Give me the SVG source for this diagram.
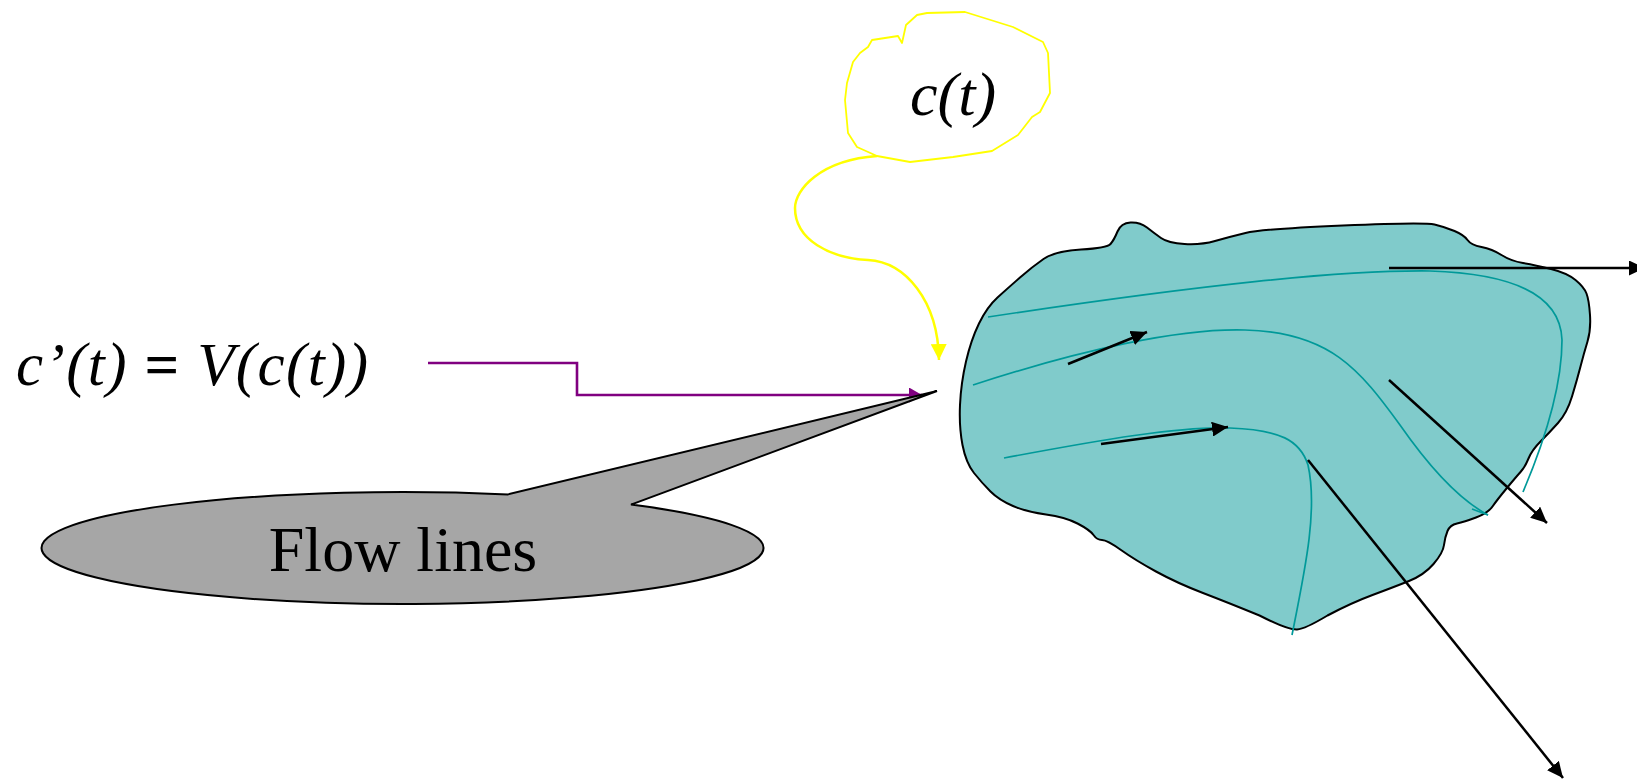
<svg xmlns="http://www.w3.org/2000/svg" width="1637" height="780" viewBox="0 0 1637 780">
<style>
.math{font-family:"Liberation Serif","Times New Roman",serif;font-style:italic;fill:#000}
.label{font-family:"Liberation Serif","Times New Roman",serif;fill:#000}
.flow{fill:none;stroke:#009999;stroke-width:1.7}
.vec{fill:none;stroke:#000;stroke-width:2.5}
</style>
<defs>
<marker id="ahBlack" markerUnits="userSpaceOnUse" viewBox="0 0 16 15" refX="16" refY="7.5" markerWidth="16" markerHeight="15" orient="auto"><path d="M0,0 L16,7.5 L0,15 z" fill="#000"/></marker>
<marker id="ahPurple" markerUnits="userSpaceOnUse" viewBox="0 0 13 15" refX="13" refY="7.5" markerWidth="13" markerHeight="15" orient="auto"><path d="M0,0 L13,7.5 L0,15 z" fill="#800080"/></marker>
<marker id="ahYellow" markerUnits="userSpaceOnUse" viewBox="0 0 16 16" refX="16" refY="8" markerWidth="16" markerHeight="16" orient="auto"><path d="M0,0 L16,8 L0,16 z" fill="#FFFF00"/></marker>
</defs>

<g id="region">
<path d="M1043.5,259 Q1055,251 1081,249.5 Q1107,248 1110.5,244 Q1114,240 1117.5,231.5 Q1121,223 1130.5,222.5 Q1140,222 1147,227.5 Q1154,233 1161,238 Q1168,243 1184.5,244 Q1201,245 1215,241 Q1229,237 1245.5,233 Q1262,229 1343,225.5 Q1424,222 1434.5,224.5 Q1445,227 1454.5,231 Q1464,235 1467.5,240 Q1471,245 1481.5,247 Q1492,249 1501.5,255 Q1511,261 1523,263 Q1535,265 1551,269 Q1567,273 1575.5,280 Q1584,287 1586.5,293.5 Q1589,300 1590,315 Q1591,330 1587.5,341.5 Q1584,353 1580.5,366.5 Q1577,380 1572,396.5 Q1567,413 1558,423 Q1549,433 1540.5,441.5 Q1532,450 1528.5,458.5 Q1525,467 1520.5,472 Q1516,477 1506.5,488.5 Q1497,500 1492.5,506.5 Q1488,513 1476,517.5 Q1464,522 1457,523.5 Q1450,525 1447.5,531 Q1445,537 1444,545 Q1443,553 1433.5,564 Q1424,575 1409,581 Q1394,587 1372.5,595 Q1351,603 1327.5,615.5 Q1305,629 1297,629.5 Q1288,630 1259.5,615.5 Q1229,603 1203,593 Q1177,583 1156,571.5 Q1135,560 1121,550 Q1107,540 1102,540 Q1097,540 1093.5,535 Q1090,530 1077.5,523.5 Q1065,517 1046,514.5 Q1027,512 1013,506 Q999,500 990.5,491.5 Q982,483 974,473 Q966,463 962.5,445 Q959,427 960,405 Q961,383 966,361.5 Q971,340 979,323.5 Q987,307 997.5,297.5 Q1008,288 1020,277.5 Q1032,267 1043.5,259 Z" fill="#80CBCB" stroke="#000" stroke-width="2"/>
<path class="flow" d="M988,317 C1200,285 1340,270 1430,271 Q1560,275 1562,340 Q1562,400 1523,492"/>
<path class="flow" d="M973,385 C1080,350 1180,328 1245,330 C1330,332 1360,370 1400,425 C1430,468 1460,500 1488,515"/>
<path class="flow" d="M1472,509 L1488,515"/>
<path class="flow" d="M1004,458 C1100,440 1180,426 1230,428 C1280,430 1300,440 1308,465 C1318,510 1305,570 1292,635"/>
<g id="vectors">
<path class="vec" d="M1389,268 L1645,268" marker-end="url(#ahBlack)"/>
<path class="vec" d="M1068,364 L1147,332" marker-end="url(#ahBlack)"/>
<path class="vec" d="M1101,444 L1228,427" marker-end="url(#ahBlack)"/>
<path class="vec" d="M1389,380 L1547,523" marker-end="url(#ahBlack)"/>
<path class="vec" d="M1308,460 L1563,778" marker-end="url(#ahBlack)"/>
</g>
</g>

<g id="connectors">
<path d="M877,156 C820,160 795,190 795,208 C795,240 830,258 868,260 C905,262 938,300 939,360" fill="none" stroke="#FFFF00" stroke-width="2.5" marker-end="url(#ahYellow)"/>
<path d="M428,363 H577 V395 H922" fill="none" stroke="#800080" stroke-width="2.6" marker-end="url(#ahPurple)"/>
</g>

<g id="curve-label">
<path d="M872,40 L898,36 L902,43 L906,25 L917,15 L927,13 L965,12 L1013,27 L1043,42 L1048,53 L1050,93 L1040,112 L1032,117 L1018,135 L992,151 L953,157 L910,162 L877,156 L857,147 L848,133 L845,100 L847,83 L853,62 L860,53 L868,47 Z" fill="#fff" stroke="#FFFF00" stroke-width="1.8" stroke-linejoin="round"/>
<text class="math" x="910" y="115" font-size="62">c(t)</text>
</g>

<g id="equation">
<text class="math" x="16" y="385" font-size="61" textLength="352" lengthAdjust="spacing">c’(t) <tspan font-style="normal" font-weight="bold">=</tspan> V(c(t))</text>
</g>

<g id="callout">
<path d="M508,494.4 L937,391 L631,504.6 A361,56 0 1 1 508,494.4 Z" fill="#A6A6A6" stroke="#000" stroke-width="2" stroke-linejoin="miter"/>
<text class="label" x="403" y="571" font-size="64" text-anchor="middle">Flow lines</text>
</g>
</svg>
